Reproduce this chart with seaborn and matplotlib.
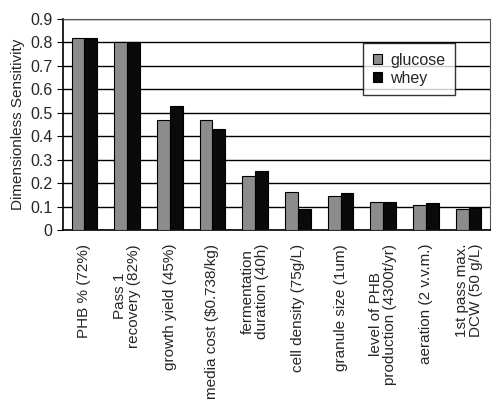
import numpy as np
import pandas as pd
import matplotlib
matplotlib.use("Agg")
import matplotlib.pyplot as plt
import seaborn as sns
from matplotlib.ticker import FixedLocator

# Datos
parametros = [
    "PHB % (72%)",
    "Pass 1\nrecovery (82%)",
    "growth yield (45%)",
    "media cost ($0.738/kg)",
    "fermentation\nduration (40h)",
    "cell density (75g/L)",
    "granule size (1um)",
    "level of PHB\nproduction (4300t/yr)",
    "aeration (2 v.v.m.)",
    "1st pass max.\nDCW (50 g/L)",
]
glucose = [0.82, 0.80, 0.47, 0.47, 0.23, 0.162, 0.145, 0.119, 0.105, 0.088]
whey = [0.82, 0.80, 0.53, 0.43, 0.25, 0.088, 0.157, 0.119, 0.114, 0.095]
y_ticks = [0, 0.1, 0.2, 0.3, 0.4, 0.5, 0.6, 0.7, 0.8, 0.9]

df = pd.DataFrame({
    "parametro": parametros * 2,
    "sensibilidad": glucose + whey,
    "sustrato": ["glucose"] * len(parametros) + ["whey"] * len(parametros),
})

sns.set_style("white")
plt.rcParams["font.family"] = ["Liberation Sans", "DejaVu Sans"]

fig = plt.figure(figsize=(4.93, 4.01), dpi=100)
ax = fig.add_axes([63 / 493, 1 - 230 / 401, 427 / 493, 211 / 401])

sns.barplot(
    data=df,
    x="parametro",
    y="sensibilidad",
    hue="sustrato",
    palette={"glucose": "#8c8c8c", "whey": "#0a0a0a"},
    width=0.6,
    edgecolor="black",
    linewidth=0.8,
    ax=ax,
    zorder=3,
)

ax.set_ylim(0, 0.9)
ax.set_xlim(-0.5, len(parametros) - 0.5)
ax.set_yticks(y_ticks)
ax.set_yticklabels([f"{v:g}" for v in y_ticks], fontsize=11.5)
ax.grid(axis="y", color="black", linewidth=1, zorder=0)
ax.set_axisbelow(True)

ax.set_xticks(range(len(parametros)))
ax.set_xticklabels(parametros, rotation=90, fontsize=11, ha="center", va="top",
                   linespacing=1.0)
ax.tick_params(axis="x", which="major", length=0, pad=10)
ax.xaxis.set_minor_locator(FixedLocator(np.arange(-0.5, len(parametros), 1.0)))
ax.tick_params(axis="x", which="minor", length=5, width=1, color="black", direction="out")
ax.tick_params(axis="y", length=4, color="black", direction="out", left=True)

ax.set_xlabel("")
ax.set_ylabel("Dimensionless Sensitivity", fontsize=11)

for lado in ["left", "bottom"]:
    ax.spines[lado].set_color("black")
    ax.spines[lado].set_linewidth(1.2)
for lado in ["top", "right"]:
    ax.spines[lado].set_color("#555555")
    ax.spines[lado].set_linewidth(0.8)

leg = ax.legend(
    loc="upper left",
    bbox_to_anchor=(0.684, 0.924),
    fontsize=11.5,
    frameon=True,
    fancybox=False,
    edgecolor="black",
    handlelength=0.6,
    handleheight=0.6,
    handletextpad=0.5,
    borderpad=0.6,
    labelspacing=0.2,
)
leg.get_frame().set_linewidth(1)

fig.savefig("out.png", dpi=100)
